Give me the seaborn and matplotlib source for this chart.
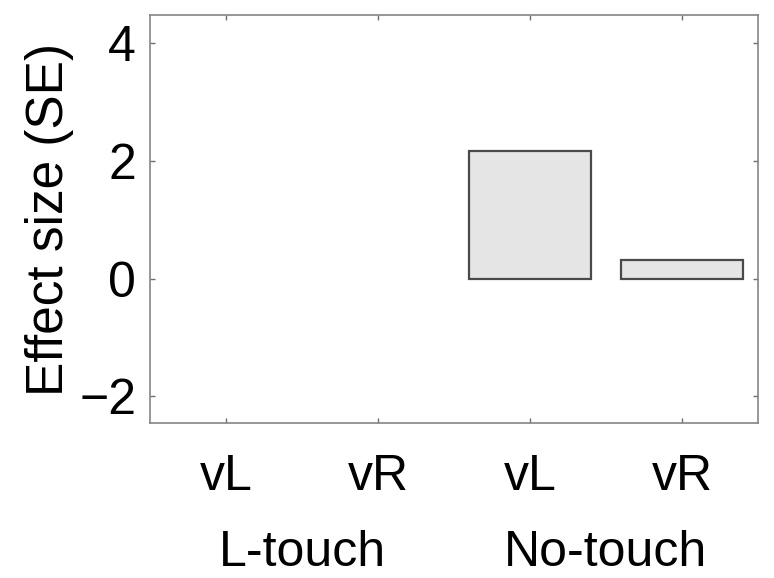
import numpy as np
import pandas as pd
import matplotlib
matplotlib.use("Agg")
import matplotlib.pyplot as plt
import seaborn as sns

# Data
groups = ["L-touch", "L-touch", "No-touch", "No-touch"]
conditions = ["vL", "vR", "vL", "vR"]
effect_size = [np.nan, np.nan, 2.17, 0.31]
y_ticks = [-2, 0, 2, 4]

sns.set_theme(style="white")
plt.rcParams["font.family"] = ["Liberation Sans", "DejaVu Sans"]

df = pd.DataFrame({
    "key": [f"{g} {c}" for g, c in zip(groups, conditions)],
    "group": groups,
    "cond": conditions,
    "value": effect_size,
})

fig = plt.figure(figsize=(7.74, 5.78), dpi=100)
ax = fig.add_axes([0.1938, 0.2682, 0.9793 - 0.1938, 0.974 - 0.2682])

sns.barplot(data=df, x="key", y="value", order=list(df["key"]), ax=ax,
            color="#e5e5e5", edgecolor="#4a4a4a", linewidth=1.6,
            width=0.8, errorbar=None, saturation=1)

ax.set_xlim(-0.5, 3.5)
ax.set_ylim(-2.45, 4.47)
ax.set_yticks(y_ticks)
ax.set_yticklabels(["\u22122", "0", "2", "4"])
ax.set_xticks(range(4))
ax.set_xticklabels(conditions)

ax.set_xlabel("")
ax.set_ylabel("Effect size (SE)", fontsize=37, labelpad=4, color="black")

for s in ax.spines.values():
    s.set_visible(True)
    s.set_color("#858585")
    s.set_linewidth(1.2)

ax.tick_params(axis="both", which="both", direction="in", length=3.5, width=1.0,
               color="#707070", labelsize=36, top=True, right=True,
               bottom=True, left=True, labelcolor="black")
ax.tick_params(axis="x", pad=22)
ax.tick_params(axis="y", pad=10)

# group labels
trans = ax.get_xaxis_transform()
for gname, xpos in [("L-touch", 0.5), ("No-touch", 2.5)]:
    ax.text(xpos, -0.262, gname, transform=trans, ha="center", va="top",
            fontsize=36, color="black")

fig.savefig("out.png", dpi=100)
